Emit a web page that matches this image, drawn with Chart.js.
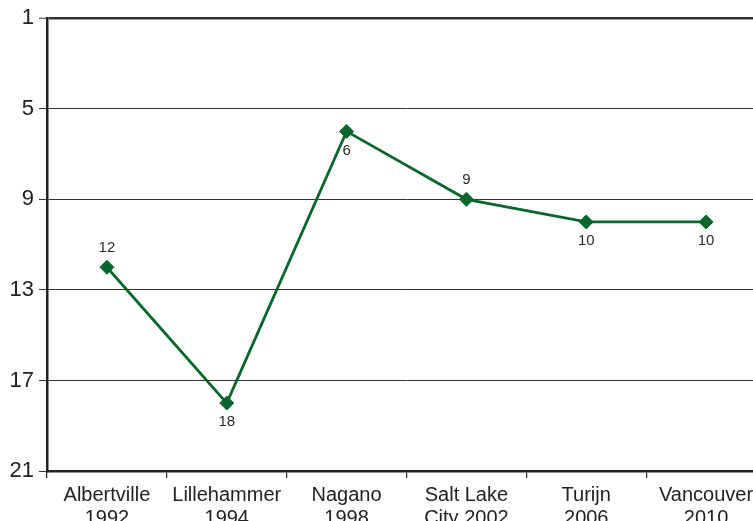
<!DOCTYPE html>
<html>
<head>
<meta charset="utf-8">
<script src="https://cdn.jsdelivr.net/npm/chart.js@4/dist/chart.umd.min.js"></script>
<style>
  html, body { margin: 0; padding: 0; overflow: hidden; background: #fff; }
  #wrap { width: 774px; height: 521px; }
</style>
</head>
<body>
<div id="wrap"><canvas id="c" width="774" height="521"></canvas></div>
<script>
const games = ['Albertville', 'Lillehammer', 'Nagano', 'Salt Lake', 'Turijn', 'Vancouver'];
const gameLine2 = ['1992', '1994', '1998', 'City 2002', '2006', '2010'];
const ranks = [12, 18, 6, 9, 10, 10];
const labelSide = ['above', 'below', 'below', 'above', 'below', 'below'];
const yTicks = [1, 5, 9, 13, 17, 21];

const FONT = '"Liberation Sans", Arial, Helvetica, sans-serif';

const valueLabels = {
  id: 'valueLabels',
  afterDatasetsDraw(chart) {
    const ctx = chart.ctx;
    const meta = chart.getDatasetMeta(0);
    ctx.save();
    ctx.font = '15px ' + FONT;
    ctx.fillStyle = '#2a2a2a';
    ctx.textAlign = 'center';
    ctx.textBaseline = 'middle';
    meta.data.forEach((pt, i) => {
      const dy = labelSide[i] === 'above' ? -19 : 19;
      ctx.fillText(String(ranks[i]), pt.x, pt.y + dy);
    });
    ctx.restore();
  }
};

new Chart(document.getElementById('c'), {
  type: 'line',
  data: {
    labels: games.map((g, i) => [g, gameLine2[i]]),
    datasets: [{
      data: ranks,
      borderColor: '#09662c',
      backgroundColor: '#09662c',
      borderWidth: 2.8,
      pointStyle: 'rectRot',
      pointRadius: 7,
      pointBorderWidth: 1,
      pointBackgroundColor: '#09662c',
      pointBorderColor: '#09662c',
      tension: 0,
      fill: false
    }]
  },
  options: {
    responsive: false,
    animation: false,
    devicePixelRatio: 1,
    layout: { padding: { top: 18, right: 3, left: 0, bottom: 0 } },
    plugins: { legend: { display: false }, tooltip: { enabled: false } },
    scales: {
      x: {
        type: 'category',
        offset: true,
        grid: {
          offset: true,
          drawOnChartArea: false,
          drawTicks: true,
          tickLength: 7,
          color: '#222',
          lineWidth: 1.2
        },
        border: { display: true, color: '#222', width: 2.5 },
        ticks: {
          color: '#222',
          font: { family: FONT, size: 20, lineHeight: 1.15 },
          padding: 6,
          maxRotation: 0,
          autoSkip: false
        },
        afterFit(scale) { scale.height = 50; }
      },
      y: {
        reverse: true,
        min: 1,
        max: 21,
        afterBuildTicks(scale) { scale.ticks = yTicks.map(v => ({ value: v })); },
        grid: {
          color: '#333',
          lineWidth: (c) => (c.tick && c.tick.value === 1 ? 2.5 : 1),
          drawTicks: true,
          tickLength: 8,
          tickColor: '#333',
          tickWidth: 1
        },
        border: { display: true, color: '#222', width: 2.5 },
        ticks: {
          color: '#222',
          font: { family: FONT, size: 22 },
          padding: 5
        },
        afterFit(scale) { scale.width = 47; }
      }
    }
  },
  plugins: [valueLabels]
});
</script>
</body>
</html>
